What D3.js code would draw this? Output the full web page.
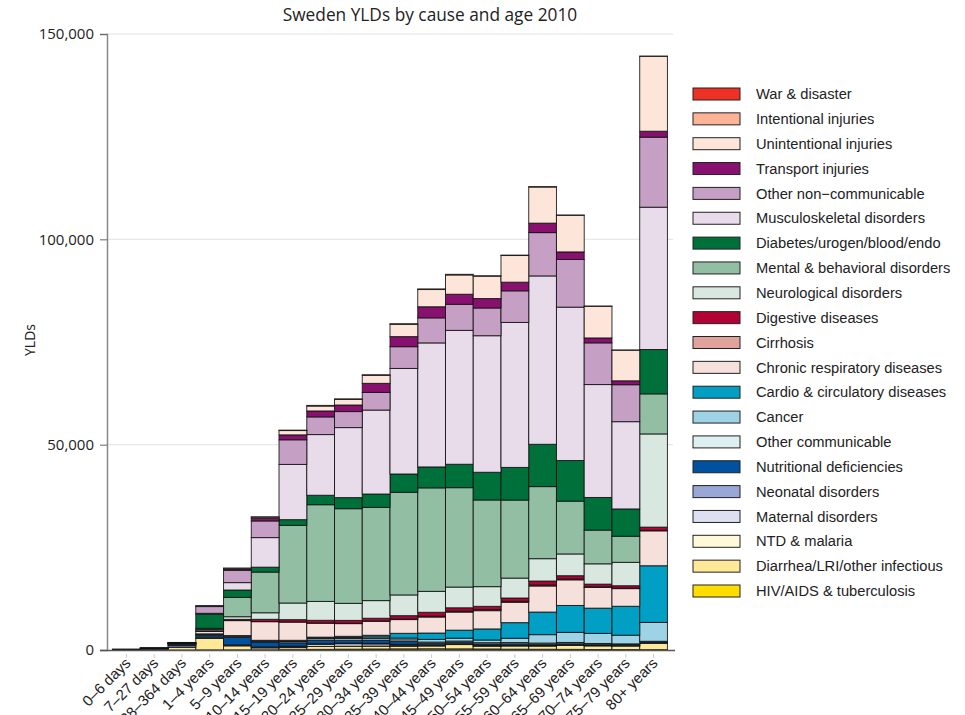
<!DOCTYPE html>
<html>
<head>
<meta charset="utf-8">
<script src="https://cdn.jsdelivr.net/npm/d3@7"></script>
<style>
  body { margin: 0; background: #fff; }
</style>
</head>
<body>
<div id="chart"></div>
<script>
// age groups (x axis)
const ages = ["0–6 days", "7–27 days", "28–364 days", "1–4 years", "5–9 years", "10–14 years",
  "15–19 years", "20–24 years", "25–29 years", "30–34 years", "35–39 years", "40–44 years",
  "45–49 years", "50–54 years", "55–59 years", "60–64 years", "65–69 years", "70–74 years",
  "75–79 years", "80+ years"];

// causes, stacked bottom -> top
const causes = ["HIV/AIDS & tuberculosis", "Diarrhea/LRI/other infectious", "NTD & malaria",
  "Maternal disorders", "Neonatal disorders", "Nutritional deficiencies", "Other communicable",
  "Cancer", "Cardio & circulatory diseases", "Chronic respiratory diseases", "Cirrhosis",
  "Digestive diseases", "Neurological disorders", "Mental & behavioral disorders",
  "Diabetes/urogen/blood/endo", "Musculoskeletal disorders", "Other non−communicable",
  "Transport injuries", "Unintentional injuries", "Intentional injuries", "War & disaster"];

const causeColors = ["#ffdd00", "#ffe996", "#fff8d9", "#dde0f0", "#98a7d6", "#0052a0", "#dcf0f2",
  "#9dd3e4", "#009fc3", "#f5e0dc", "#e0a39b", "#b10335", "#d8e7e0", "#92bfa4",
  "#00703a", "#e8dcea", "#c59fc4", "#88106f", "#fee5d9", "#fcb398", "#ee3124"];

// YLDs per age group, one array per cause
const hiv          = [0, 0, 0, 20, 30, 40, 80, 150, 200, 250, 280, 300, 280, 250, 200, 180, 150, 120, 100, 80];
const diarrhea     = [60, 150, 650, 2800, 1000, 500, 500, 700, 700, 700, 650, 700, 1050, 700, 800, 800, 1000, 900, 900, 1600];
const ntd          = [0, 0, 0, 10, 20, 20, 30, 30, 30, 30, 30, 30, 30, 30, 30, 30, 30, 30, 20, 20];
const maternal     = [0, 0, 0, 0, 0, 0, 200, 500, 600, 500, 250, 100, 20, 0, 0, 0, 0, 0, 0, 0];
const neonatal     = [80, 250, 400, 300, 200, 200, 150, 150, 150, 150, 150, 100, 100, 100, 80, 80, 60, 40, 30, 20];
const nutritional  = [0, 30, 300, 500, 1800, 1200, 800, 800, 700, 800, 700, 400, 400, 400, 400, 300, 300, 300, 300, 300];
const otherComm    = [10, 30, 100, 200, 300, 200, 300, 400, 400, 400, 400, 300, 300, 300, 300, 300, 300, 200, 150, 100];
const cancer       = [0, 0, 0, 50, 80, 100, 150, 200, 250, 350, 450, 650, 700, 650, 1050, 2050, 2450, 2450, 2100, 4600];
const cardio       = [0, 0, 0, 50, 80, 100, 150, 200, 300, 400, 1150, 1550, 1950, 2700, 3800, 5500, 6550, 6150, 7050, 13800];
const chronicResp  = [0, 10, 100, 600, 3650, 4550, 4450, 3400, 3100, 3400, 3350, 3900, 4400, 4450, 4950, 6350, 6250, 5050, 4300, 8500];
const cirrhosis    = [0, 0, 0, 0, 0, 10, 30, 50, 80, 100, 150, 200, 250, 250, 250, 250, 200, 150, 100, 100];
const digestive    = [0, 0, 20, 150, 300, 550, 550, 650, 700, 650, 800, 950, 800, 800, 800, 950, 800, 650, 600, 800];
const neuro        = [0, 0, 30, 300, 650, 1600, 4050, 4600, 4150, 4300, 5050, 5100, 5050, 4800, 4850, 5450, 5300, 4950, 5700, 22700];
const mental       = [0, 0, 20, 300, 4700, 9900, 18900, 23550, 23050, 22700, 25000, 25200, 24200, 21100, 19000, 17550, 12850, 8200, 6350, 9750];
const diabetes     = [10, 20, 100, 3500, 1800, 1200, 1400, 2300, 2700, 3250, 4450, 5100, 5700, 6750, 7950, 10300, 9900, 7950, 6650, 10800];
const musculo      = [0, 0, 0, 150, 1800, 7200, 13450, 14780, 17050, 20450, 25700, 30200, 32600, 33250, 35300, 41000, 37350, 27500, 21250, 34650];
const otherNonComm = [10, 10, 80, 1650, 3000, 4050, 6000, 4300, 3900, 4300, 5300, 6100, 6350, 6750, 7700, 10550, 11600, 10150, 9000, 17050];
const transport    = [0, 0, 20, 100, 200, 650, 1200, 1450, 1600, 2200, 2450, 2700, 2450, 2300, 2100, 2300, 1850, 1200, 950, 1450];
const unintention  = [0, 0, 20, 150, 300, 300, 1050, 1200, 1350, 1950, 3000, 4200, 4700, 5450, 6500, 8800, 8900, 7700, 7450, 18250];
const intentional  = [0, 0, 0, 0, 10, 50, 100, 150, 150, 150, 150, 150, 150, 100, 100, 100, 80, 60, 40, 30];
const war          = [0, 0, 0, 0, 0, 0, 0, 0, 0, 0, 0, 0, 0, 0, 0, 0, 0, 0, 0, 0];

const series = [hiv, diarrhea, ntd, maternal, neonatal, nutritional, otherComm, cancer, cardio,
  chronicResp, cirrhosis, digestive, neuro, mental, diabetes, musculo, otherNonComm,
  transport, unintention, intentional, war];

const yTicks = [0, 50000, 100000, 150000];

const W = 965, H = 715;
const PLOT = { LEFT: 107, RIGHT: 673, TOP: 34, BOTTOM: 650 };

const svg = d3.select("#chart").append("svg")
  .attr("width", W)
  .attr("height", H)
  .style("font-family", "'Open Sans', sans-serif");

// table for d3.stack
const table = ages.map((a, i) => {
  const row = { age: a };
  causes.forEach((c, j) => { row[c] = series[j][i]; });
  return row;
});
const stacked = d3.stack().keys(causes)(table);

const color = d3.scaleOrdinal().domain(causes).range(causeColors);

const x = d3.scaleBand()
  .domain(ages)
  .range([PLOT.LEFT, PLOT.RIGHT])
  .paddingInner(0)
  .paddingOuter(0.2);

const y = d3.scaleLinear()
  .domain([0, 150000])
  .range([PLOT.BOTTOM, PLOT.TOP]);

// gridlines
svg.append("g")
  .selectAll("line")
  .data(yTicks.slice(1))
  .join("line")
  .attr("x1", PLOT.LEFT)
  .attr("x2", PLOT.RIGHT)
  .attr("y1", d => y(d))
  .attr("y2", d => y(d))
  .attr("stroke", "#e2e2e2")
  .attr("stroke-width", 1);

// bars
svg.append("g")
  .selectAll("g")
  .data(stacked)
  .join("g")
  .attr("fill", d => color(d.key))
  .selectAll("rect")
  .data(d => d)
  .join("rect")
  .attr("x", d => x(d.data.age))
  .attr("width", x.bandwidth())
  .attr("y", d => y(d[1]))
  .attr("height", d => y(d[0]) - y(d[1]))
  .attr("stroke", "#111")
  .attr("stroke-opacity", 0.85)
  .attr("stroke-width", 1);

// y axis
const yAxis = svg.append("g")
  .attr("transform", `translate(${PLOT.LEFT},0)`)
  .call(d3.axisLeft(y).tickValues(yTicks).tickSize(7).tickPadding(6).tickFormat(d3.format(",")));
yAxis.select(".domain").attr("stroke", "#888").attr("stroke-width", 1.5);
yAxis.selectAll(".tick line").attr("stroke", "#666");
yAxis.selectAll(".tick text")
  .style("font-family", "'Open Sans', sans-serif")
  .style("font-size", "15px")
  .attr("fill", "#222");

// x axis
const xAxis = svg.append("g")
  .attr("transform", `translate(0,${PLOT.BOTTOM})`)
  .call(d3.axisBottom(x).tickSize(4).tickSizeOuter(0).tickPadding(6));
xAxis.select(".domain").attr("stroke", "#555").attr("stroke-width", 1.5)
  .attr("d", `M${PLOT.LEFT - 7},0.5H${PLOT.RIGHT + 2}`);
xAxis.selectAll(".tick line").attr("stroke", "#ccc").attr("y1", 4).attr("y2", 8);
xAxis.selectAll(".tick text")
  .style("font-family", "'Liberation Sans', Arial, sans-serif")
  .style("font-size", "15px")
  .attr("fill", "#222")
  .attr("text-anchor", "end")
  .attr("dy", "0")
  .attr("transform", "translate(-2,7) rotate(-45)");

// y title
svg.append("text")
  .attr("transform", "translate(35,340) rotate(-90)")
  .attr("text-anchor", "middle")
  .style("font-size", "14px")
  .attr("fill", "#222")
  .text("YLDs");

// title
svg.append("text")
  .attr("x", 430)
  .attr("y", 21)
  .attr("text-anchor", "middle")
  .style("font-size", "17.3px")
  .attr("fill", "#222")
  .text("Sweden YLDs by cause and age 2010");

// legend (top item = last stacked cause)
const legendItems = causes.slice().reverse();
const legend = svg.append("g")
  .selectAll("g")
  .data(legendItems)
  .join("g")
  .attr("transform", (d, i) => `translate(693,${94 + i * 24.85})`);

legend.append("rect")
  .attr("x", 0)
  .attr("y", -6)
  .attr("width", 47)
  .attr("height", 12)
  .attr("fill", d => color(d))
  .attr("stroke", "#222")
  .attr("stroke-width", 1);

legend.append("text")
  .attr("x", 63)
  .attr("y", 0)
  .attr("dy", "0.35em")
  .style("font-family", "'Liberation Sans', Arial, sans-serif")
  .style("font-size", "14.7px")
  .attr("fill", "#222")
  .text(d => d);
</script>
</body>
</html>
